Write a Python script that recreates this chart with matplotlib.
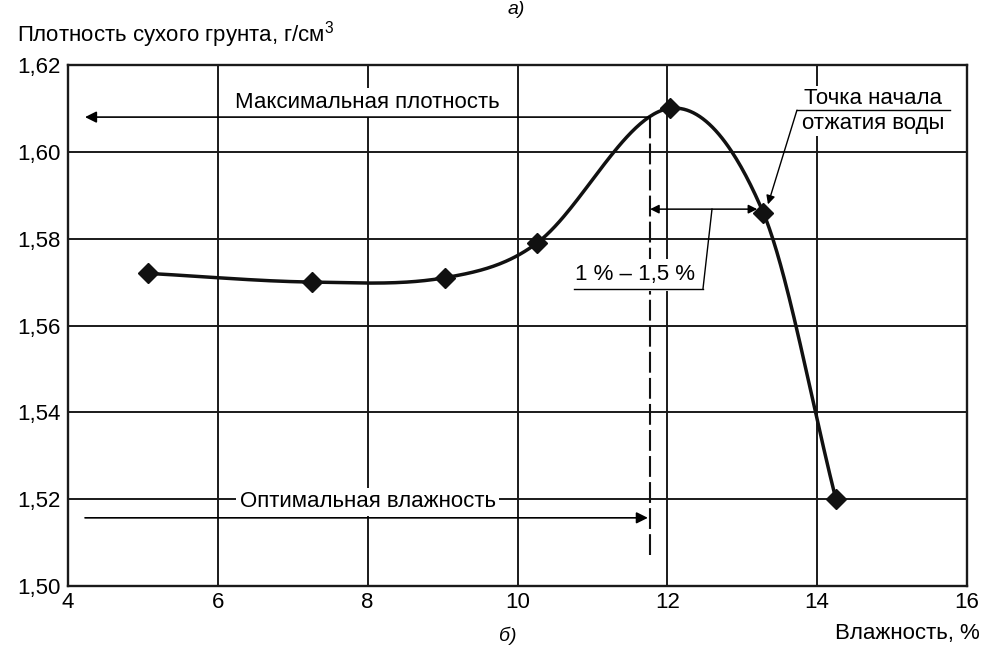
import numpy as np
import matplotlib
matplotlib.use("Agg")
import matplotlib.pyplot as plt

plt.rcParams['font.family'] = ['Liberation Sans', 'DejaVu Sans']
plt.rcParams['mathtext.fontset'] = 'custom'
plt.rcParams['mathtext.rm'] = 'Liberation Sans'
plt.rcParams['mathtext.it'] = 'Liberation Sans'
plt.rcParams['mathtext.default'] = 'regular'

# Data
moisture = [5.07, 7.26, 9.03, 10.26, 12.03, 13.28, 14.25]
density = [1.572, 1.570, 1.571, 1.579, 1.610, 1.586, 1.520]
x_ticks = [4, 6, 8, 10, 12, 14, 16]
y_ticks = [1.50, 1.52, 1.54, 1.56, 1.58, 1.60, 1.62]
y_tick_labels = ['1,50', '1,52', '1,54', '1,56', '1,58', '1,60', '1,62']
optimal_moisture = 11.77
max_density_level = 1.608
optimal_arrow_level = 1.5157
range_arrow_level = 1.5868

FS = 16


def hermite_curve(x, y, n=60):
    x = np.asarray(x, float)
    y = np.asarray(y, float)
    m = np.zeros_like(y)
    m[1:-1] = (y[2:] - y[:-2]) / (x[2:] - x[:-2])
    m[0] = (y[1] - y[0]) / (x[1] - x[0])
    m[-1] = (y[-1] - y[-2]) / (x[-1] - x[-2])
    xs, ys = [], []
    for i in range(len(x) - 1):
        h = x[i + 1] - x[i]
        t = np.linspace(0, 1, n)
        h00 = 2 * t**3 - 3 * t**2 + 1
        h10 = t**3 - 2 * t**2 + t
        h01 = -2 * t**3 + 3 * t**2
        h11 = t**3 - t**2
        xs.append(x[i] + t * h)
        ys.append(h00 * y[i] + h10 * h * m[i] + h01 * y[i + 1] + h11 * h * m[i + 1])
    return np.concatenate(xs), np.concatenate(ys)


fig = plt.figure(figsize=(9.85, 6.46), dpi=100)
ax = fig.add_axes([0.06904, 0.09288, 0.9127, 0.8065])
ax.set_xlim(4, 16)
ax.set_ylim(1.50, 1.62)
ax.set_xticks(x_ticks)
ax.set_xticklabels([str(v) for v in x_ticks])
ax.set_yticks(y_ticks)
ax.set_yticklabels(y_tick_labels)
ax.tick_params(length=0, labelsize=FS, pad=5)
ax.tick_params(axis='x', pad=4)
for s in ax.spines.values():
    s.set_linewidth(1.7)
    s.set_color('#1a1a1a')
ax.grid(True, color='#1a1a1a', linewidth=1.4, zorder=1)
ax.set_axisbelow(True)

cx, cy = hermite_curve(moisture, density)
ax.plot(cx, cy, color='#111111', lw=2.5, zorder=4, solid_capstyle='round')
ax.plot(moisture, density, linestyle='none', marker='D', ms=10, color='#111111', zorder=5)

# optimal moisture dashed line
ax.plot([optimal_moisture, optimal_moisture], [1.5072, 1.608], color='#111111',
        lw=1.5, linestyle=(0, (10, 2.5)), zorder=3)

box = dict(facecolor='white', edgecolor='none', pad=2.5)
arrow_kw = dict(arrowstyle='-|>', color='black', lw=1.2, mutation_scale=17,
                shrinkA=0, shrinkB=0)

# max density arrow
ax.annotate('', xy=(4.227, max_density_level), xytext=(optimal_moisture, max_density_level),
            arrowprops=arrow_kw, zorder=7)
ax.text(8.0, 1.6101, 'Максимальная плотность', fontsize=FS, ha='center', va='baseline',
        bbox=box, zorder=6)

# optimal moisture arrow
ax.annotate('', xy=(optimal_moisture - 0.03, optimal_arrow_level), xytext=(4.227, optimal_arrow_level),
            arrowprops=arrow_kw, zorder=7)
ax.text(8.0, 1.520, 'Оптимальная влажность', fontsize=FS, ha='center', va='center_baseline',
        bbox=box, zorder=6)

# range double arrow
ax.annotate('', xy=(13.2, range_arrow_level), xytext=(optimal_moisture, range_arrow_level),
            arrowprops=dict(arrowstyle='<|-|>', color='black', lw=1.1, mutation_scale=13,
                            shrinkA=0, shrinkB=0), zorder=7)
ax.plot([12.596, 12.476], [range_arrow_level, 1.5685], color='black', lw=1.0, zorder=7)
ax.plot([10.754, 12.476], [1.5685, 1.5685], color='black', lw=1.0, zorder=7)
ax.text(11.568, 1.5704, '1 % – 1,5 %', fontsize=FS, ha='center', va='baseline',
        bbox=dict(facecolor='white', edgecolor='none', pad=4), zorder=6)

# squeezing point annotation
ax.text(14.745, 1.6110, 'Точка начала', fontsize=FS, ha='center', va='baseline',
        bbox=dict(facecolor='white', edgecolor='none', pad=1.5), zorder=6)
ax.text(14.745, 1.6052, 'отжатия воды', fontsize=FS, ha='center', va='baseline',
        bbox=dict(facecolor='white', edgecolor='none', pad=1.5), zorder=6)
ax.plot([13.73, 15.77], [1.6096, 1.6096], color='black', lw=1.0, zorder=7)
ax.annotate('', xy=(13.343, 1.5879), xytext=(13.73, 1.6096),
            arrowprops=dict(arrowstyle='-|>', color='black', lw=1.0, mutation_scale=13,
                            shrinkA=0, shrinkB=0), zorder=7)

# axis titles
fig.text(17 / 985, 1 - 42 / 646, 'Плотность сухого грунта, г/см$^{3}$', fontsize=FS,
         ha='left', va='baseline')
fig.text(980 / 985, 1 - 639 / 646, 'Влажность, %', fontsize=FS, ha='right', va='baseline')

# panel labels at the edges
fig.text(516 / 985, 1 - 1 / 646, 'а)', fontsize=14, ha='center', va='top', style='italic')
fig.text(508 / 985, 1 / 646, 'б)', fontsize=14, ha='center', va='bottom', style='italic')

fig.savefig('out.png', dpi=100)
